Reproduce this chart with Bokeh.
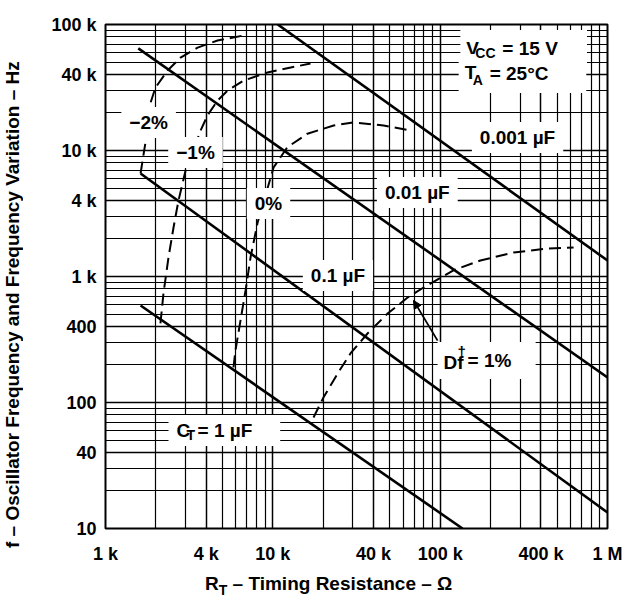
import math
from bokeh.plotting import figure
from bokeh.layouts import column, row
from bokeh.models import FixedTicker, Label, Arrow, NormalHead, Div
from bokeh.embed import file_html
from bokeh.resources import INLINE

# ---------------- data ----------------
x_ticks = [1000, 4000, 10000, 40000, 100000, 400000, 1000000]
x_tick_labels = ["1 k", "4 k", "10 k", "40 k", "100 k", "400 k", "1 M"]
y_ticks = [10, 40, 100, 400, 1000, 4000, 10000, 40000, 100000]
y_tick_labels = ["10", "40", "100", "400", "1 k", "4 k", "10 k", "40 k", "100 k"]
x_minor = [m * 10 ** d for d in (3, 4, 5) for m in (2, 3, 5, 6, 7, 8, 9)]
y_minor = [m * 10 ** d for d in (1, 2, 3, 4) for m in (2, 3, 5, 6, 7, 8, 9)]

# timing capacitor lines (R in ohm, f in Hz)
cap_names = ["1 µF", "0.1 µF", "0.01 µF", "0.001 µF"]
cap_r_start = [1620, 1620, 1570, 10700]
cap_f_start = [589, 6570, 64600, 100000]
cap_r_end = [136000, 1000000, 1000000, 1000000]
cap_f_end = [10, 13.4, 158, 1340]

# frequency-variation contours
dfm2_r = [1620, 1730, 1860, 1990, 2350, 2810, 3550, 4670, 6680]
dfm2_f = [6570, 11400, 24000, 31600, 43100, 54700, 65600, 74600, 81800]
dfm1_r = [2130, 2220, 2380, 2550, 2730, 3010, 3700, 4070, 4670, 5360, 6680, 9290, 12800, 16800]
dfm1_f = [424, 733, 1420, 2450, 4010, 6930, 14400, 19000, 24900, 29900, 35900, 41600, 45600, 49000]
df0_r = [5820, 5980, 6410, 6870, 7360, 8110, 10100, 12200, 16100, 23100, 30300, 45900, 66500]
df0_f = [190, 259, 448, 774, 1420, 2680, 7330, 10600, 13600, 15800, 16700, 15800, 14400]
df1_r = [17500, 20100, 24400, 29100, 36800, 48500, 63900, 79600, 120000, 174000, 275000, 439000, 627000]
df1_f = [76, 110, 170, 245, 353, 508, 681, 818, 1120, 1340, 1550, 1670, 1700]

# simple labels
simple_labels = ["0.001 µF", "0.01 µF", "0.1 µF", "−2%", "−1%", "0%"]
simple_label_r = [290000, 73000, 24500, 1810, 3450, 9420]
simple_label_f = [12700, 4640, 1020, 16700, 9640, 3800]

# arrow (Df label -> 1% curve)
arrow_r = [96500, 69300]
arrow_f = [310, 646]

# composite label anchors (left edge, vertical middle)
vcc_pos = (132000, 64600)
ta_pos = (129000, 40800)
ct_pos = (2380, 60)
df_pos = (96500, 215)

x_title_html = "R<sub style='font-size:14px'>T</sub> – Timing Resistance – Ω"
y_title = "f – Oscillator Frequency and Frequency Variation – Hz"

FONT = "Liberation Sans"
YT_W = 30

p = figure(width=625 - YT_W, height=573, x_axis_type="log", y_axis_type="log",
           x_range=(1e3, 1e6), y_range=(10, 1e5),
           output_backend="svg", toolbar_location=None,
           min_border_left=105 - YT_W, min_border_right=18, min_border_top=24,
           min_border_bottom=45)

p.background_fill_color = "white"
p.border_fill_color = "white"
p.outline_line_color = "black"
p.outline_line_width = 2

p.xaxis.ticker = FixedTicker(ticks=x_ticks, minor_ticks=x_minor)
p.yaxis.ticker = FixedTicker(ticks=y_ticks, minor_ticks=y_minor)
p.xaxis.major_label_overrides = dict(zip(x_ticks, x_tick_labels))
p.yaxis.major_label_overrides = dict(zip(y_ticks, y_tick_labels))
for ax in (p.xaxis, p.yaxis):
    ax.axis_line_color = None
    ax.major_tick_line_color = None
    ax.minor_tick_line_color = None
    ax.major_tick_out = 0
    ax.minor_tick_out = 0
    ax.major_tick_in = 0
    ax.minor_tick_in = 0
    ax.major_label_text_font = FONT
    ax.major_label_text_font_style = "bold"
    ax.major_label_text_font_size = "18px"
    ax.major_label_text_color = "black"
p.xaxis.major_label_standoff = 15
p.yaxis.major_label_standoff = 9

for g in (p.xgrid, p.ygrid):
    g.grid_line_color = "black"
    g.grid_line_width = 1.5
    g.grid_line_alpha = 1
    g.minor_grid_line_color = "black"
    g.minor_grid_line_width = 1.2
    g.minor_grid_line_alpha = 1

# capacitor lines
p.segment(x0=cap_r_start, y0=cap_f_start, x1=cap_r_end, y1=cap_f_end,
          line_color="black", line_width=2.6)

# contours
for rr, ff in ((dfm2_r, dfm2_f), (dfm1_r, dfm1_f), (df0_r, df0_f), (df1_r, df1_f)):
    p.line(rr, ff, line_color="black", line_width=2, line_dash="12 6")

p.add_layout(Arrow(end=NormalHead(size=8, fill_color="black", line_color="black"),
                   x_start=arrow_r[0], y_start=arrow_f[0], x_end=arrow_r[1], y_end=arrow_f[1],
                   line_color="black", line_width=1.8))


def text(pos, t, size=19, dx=0, dy=0, align="left", pad=None):
    lab = Label(x=pos[0], y=pos[1], text=t, x_offset=dx, y_offset=dy,
                text_font=FONT, text_font_style="bold", text_font_size=f"{size}px",
                text_align=align, text_baseline="middle", text_color="black")
    if pad is not None:
        lab.background_fill_color = "white"
        lab.padding = pad
    p.add_layout(lab)


for t, r, f in zip(simple_labels, simple_label_r, simple_label_f):
    text((r, f), t, align="center", pad=dict(left=8, right=8, top=5, bottom=5))

# V_CC = 15 V / T_A = 25°C
text(vcc_pos, "V", pad=dict(left=6, right=108, top=8, bottom=8))
text(ta_pos, "T", pad=dict(left=6, right=110, top=8, bottom=10))
text(vcc_pos, "= 15 V", dx=42)
text(ta_pos, "= 25°C", dx=31)
text(vcc_pos, "CC", size=14, dx=15, dy=-5)
text(ta_pos, "A", size=14, dx=14, dy=-6)

# C_T = 1 µF
text(ct_pos, "C", pad=dict(left=8, right=90, top=5, bottom=5))
text(ct_pos, "= 1 µF", dx=29)
text(ct_pos, "T", size=14, dx=18, dy=-5)

# Df† = 1%
text(df_pos, "Df", pad=dict(left=6, right=72, top=10, bottom=6))
text(df_pos, "= 1%", dx=30)
text(df_pos, "†", size=15, dx=20, dy=9)

common = {"font-family": FONT, "font-weight": "bold", "font-size": "19px", "color": "black",
          "white-space": "nowrap"}

y_div = Div(text=y_title, width=YT_W, height=609, margin=0,
            styles=dict(common, **{"writing-mode": "vertical-rl", "transform": "rotate(180deg)",
                                   "text-align": "center", "line-height": "26px"}))

x_div = Div(text=x_title_html, width=625 - YT_W, height=36, margin=0,
            styles=dict(common, **{"padding-left": f"{205 - YT_W}px", "line-height": "22px"}))

layout = row(y_div, column(p, x_div, spacing=0), spacing=0)
open("out.html", "w").write(file_html(layout, INLINE))
